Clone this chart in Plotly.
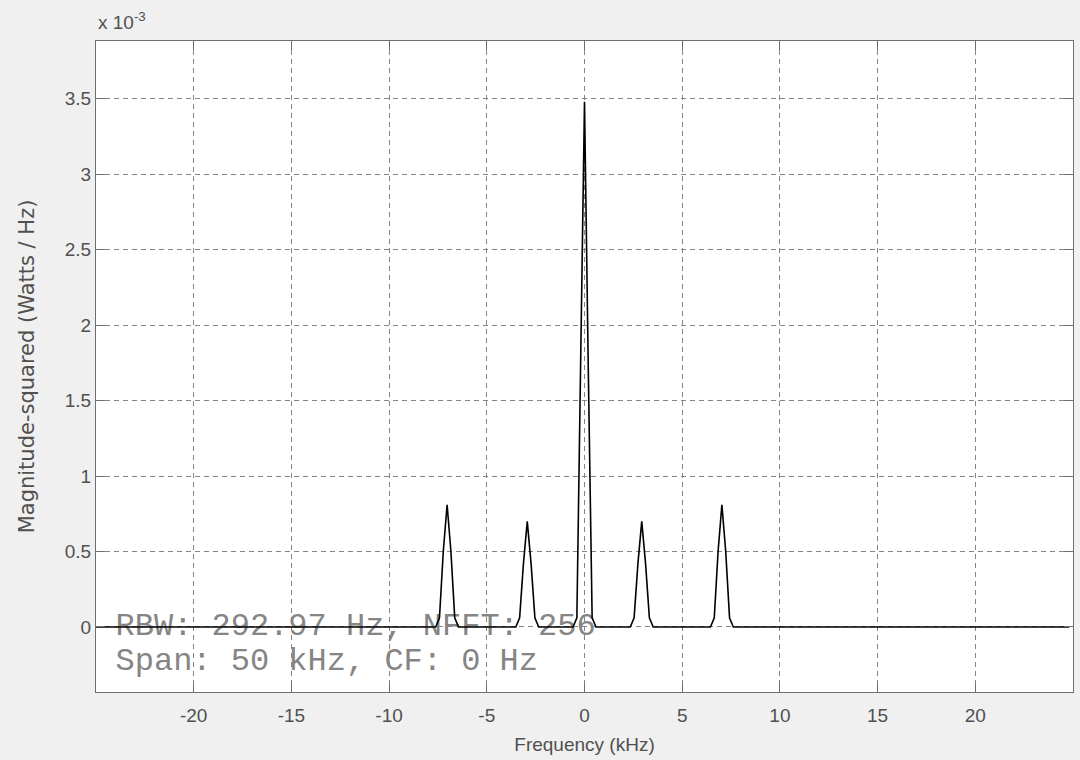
import plotly.graph_objects as go

# Spectrum (power density in units of 1e-3 W/Hz), frequency in kHz
freq_khz = [-25.0,
            -7.617, -7.422, -7.227, -7.031, -6.836, -6.641, -6.445,
            -3.516, -3.320, -3.125, -2.930, -2.734, -2.539, -2.344,
            -0.586, -0.391, -0.195, 0.0, 0.195, 0.391, 0.586,
            2.344, 2.539, 2.734, 2.930, 3.125, 3.320, 3.516,
            6.445, 6.641, 6.836, 7.031, 7.227, 7.422, 7.617,
            24.805]
power_e3 = [0.0,
            0.0, 0.06, 0.50, 0.81, 0.50, 0.06, 0.0,
            0.0, 0.06, 0.42, 0.70, 0.42, 0.06, 0.0,
            0.0, 0.06, 1.70, 3.48, 1.70, 0.06, 0.0,
            0.0, 0.06, 0.42, 0.70, 0.42, 0.06, 0.0,
            0.0, 0.06, 0.50, 0.81, 0.50, 0.06, 0.0,
            0.0]

x_ticks = [-20, -15, -10, -5, 0, 5, 10, 15, 20]
x_tick_text = ["-20", "-15", "-10", "-5", "0", "5", "10", "15", "20"]
y_ticks = [0, 0.5, 1, 1.5, 2, 2.5, 3, 3.5]
y_tick_text = ["0", "0.5", "1", "1.5", "2", "2.5", "3", "3.5"]
x_range = [-25, 25]
y_range = [-0.431, 3.883]

info_lines = ["RBW: 292.97 Hz, NFFT: 256", "Span: 50 kHz, CF: 0 Hz"]
info_x = [-24.0, -24.0]
info_y = [0.0, -0.232]

AX = "#6e6e6e"
GRID = "#858585"
TXT = "#505050"
FONT = "Liberation Sans, Arial, sans-serif"

fig = go.Figure()
# info text drawn first so the spectrum line passes over it
fig.add_trace(go.Scatter(
    x=info_x, y=info_y, mode="text", text=info_lines,
    textposition="middle right",
    textfont=dict(family="Courier New, Liberation Mono, monospace", size=32, color="#858585"),
    showlegend=False, hoverinfo="skip"))
fig.add_trace(go.Scatter(
    x=freq_khz, y=power_e3, mode="lines",
    line=dict(color="black", width=1.6),
    showlegend=False, hoverinfo="x+y"))

fig.update_layout(
    width=1080, height=760,
    margin=dict(l=96, r=7, t=41, b=68),
    paper_bgcolor="#f0f0f0", plot_bgcolor="white",
    font=dict(family=FONT, size=19, color=TXT),
    xaxis=dict(
        range=x_range, tickvals=x_ticks, ticktext=x_tick_text,
        ticks="inside", ticklen=9, ticklabelstandoff=6,
        tickcolor=AX, showline=True, linecolor=AX, linewidth=1, mirror="ticks",
        showgrid=True, gridcolor=GRID, griddash="5px,4px", gridwidth=1,
        zeroline=False,
        title=dict(text="Frequency (kHz)", font=dict(size=19, color=TXT), standoff=12),
        tickfont=dict(size=19, color=TXT)),
    yaxis=dict(
        range=y_range, tickvals=y_ticks, ticktext=y_tick_text,
        ticks="inside", ticklen=9,
        tickcolor=AX, showline=True, linecolor=AX, linewidth=1, mirror="ticks",
        showgrid=True, gridcolor=GRID, griddash="5px,4px", gridwidth=1,
        zeroline=False,
        title=dict(text="Magnitude-squared (Watts / Hz)",
                   font=dict(family="DejaVu Sans, sans-serif", size=21, color=TXT), standoff=24),
        tickfont=dict(size=19, color=TXT)),
)

fig.add_annotation(
    x=0, y=1, xref="paper", yref="paper", xanchor="left", yanchor="bottom",
    yshift=6, text="x 10<sup>-3</sup>", showarrow=False,
    font=dict(family=FONT, size=19, color=TXT))

fig.write_html("out.html")
